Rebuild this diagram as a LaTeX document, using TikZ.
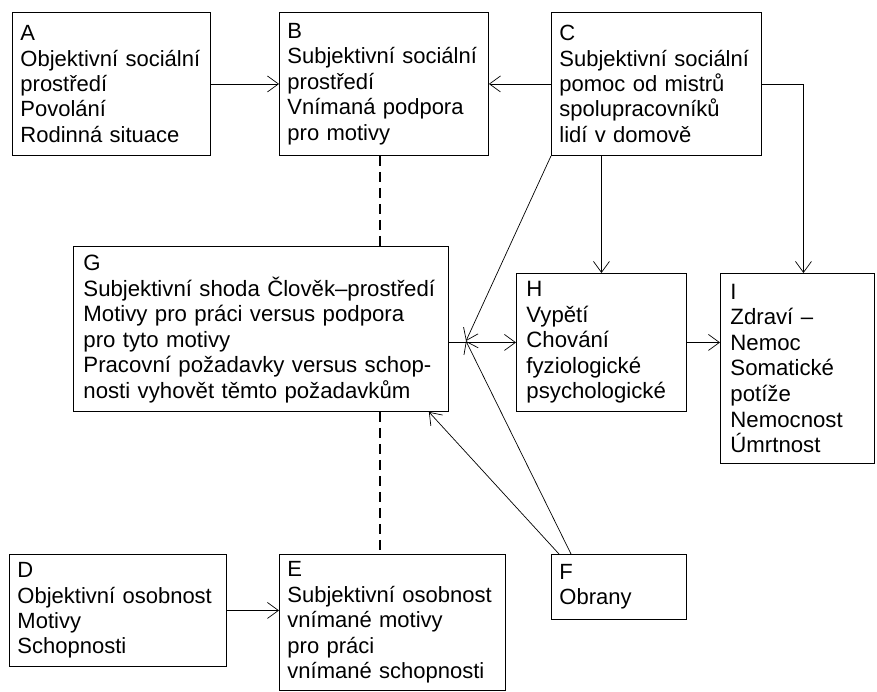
\documentclass[tikz,border=0pt]{standalone}
\usepackage{fontspec}
\setmainfont{Liberation Sans}
\usetikzlibrary{arrows.meta}

\begin{document}
\begin{tikzpicture}[%
    x=1pt, y=-1pt,
    >={Straight Barb[length=11pt,width=16pt]},
    line width=0.7pt,
    box/.style={draw, line width=0.9pt, anchor=north west, align=left,
        inner xsep=8pt, inner ysep=6pt, font=\fontsize{22}{25.4}\selectfont},
    bigbox/.style={box, inner xsep=10pt, font=\fontsize{22.2}{25.6}\selectfont},
    link/.style={dash pattern=on 10pt off 6pt, line width=1.2pt}
    ]

    \useasboundingbox[fill=white] (0,0) rectangle (877,691);

    \node[box, minimum width=198pt, minimum height=143pt, text width=182pt] (A) at (12,12)
        {A\\Objektivní sociální\\prostředí\\Povolání\\Rodinná situace};
    \node[box, minimum width=209pt, minimum height=143pt, text width=193pt] (B) at (279,12)
        {B\\Subjektivní sociální\\prostředí\\Vnímaná podpora\\pro motivy};
    \node[box, minimum width=210pt, minimum height=143pt, text width=194pt] (C) at (551,12)
        {C\\Subjektivní sociální\\pomoc od mistrů\\spolupracovníků\\lidí v domově};
    \node[bigbox, minimum width=375pt, minimum height=165pt, text width=355pt] (G) at (73,246)
        {G\\Subjektivní shoda Člověk–prostředí\\Motivy pro práci versus podpora\\pro tyto motivy\\Pracovní požadavky versus schop-\\nosti vyhovět těmto požadavkům};
    \node[bigbox, minimum width=170pt, minimum height=138pt, text width=150pt] (H) at (516,273)
        {H\\Vypětí\\Chování\\fyziologické\\psychologické};
    \node[bigbox, minimum width=154pt, minimum height=190pt, text width=134pt] (I) at (720,273)
        {I\\Zdraví –\\Nemoc\\Somatické\\potíže\\Nemocnost\\Úmrtnost};
    \node[box, minimum width=217pt, minimum height=112pt, text width=201pt] (D) at (9,554)
        {D\\Objektivní osobnost\\Motivy\\Schopnosti};
    \node[box, minimum width=226pt, minimum height=136pt, text width=210pt] (E) at (279,554)
        {E\\Subjektivní osobnost\\vnímané motivy\\pro práci\\vnímané schopnosti};
    \node[box, minimum width=135pt, minimum height=65pt, text width=119pt] (F) at (551,554)
        {F\\Obrany};

    \coordinate (J) at (466,341);

    \path[->] (A) edge (B);
    \path[->] (C) edge (B);
    \draw[->] (C.east) -| ([xshift=6pt]I.north);
    \draw[->] (C.south -| H.north) -- (H.north);
    \draw[->] (C.south west) -- (J);
    \draw[->] (G.east |- H.west) -- (H.west);
    \draw[->] (H.east) -- (H.east -| I.west);
    \draw[->] ([xshift=20pt]F.north west) -- (J);
    \draw[->] ([xshift=8pt]F.north west) -- ([xshift=-20pt]G.south east);
    \path[->] (D) edge (D.east -| E.west);

    \draw[link] ([xshift=-4pt]B.south) -- ([xshift=-4pt]B.south |- G.north);
    \draw[link] ([xshift=-4pt]B.south |- G.south) -- ([xshift=-4pt]B.south |- E.north);

\end{tikzpicture}
\end{document}
